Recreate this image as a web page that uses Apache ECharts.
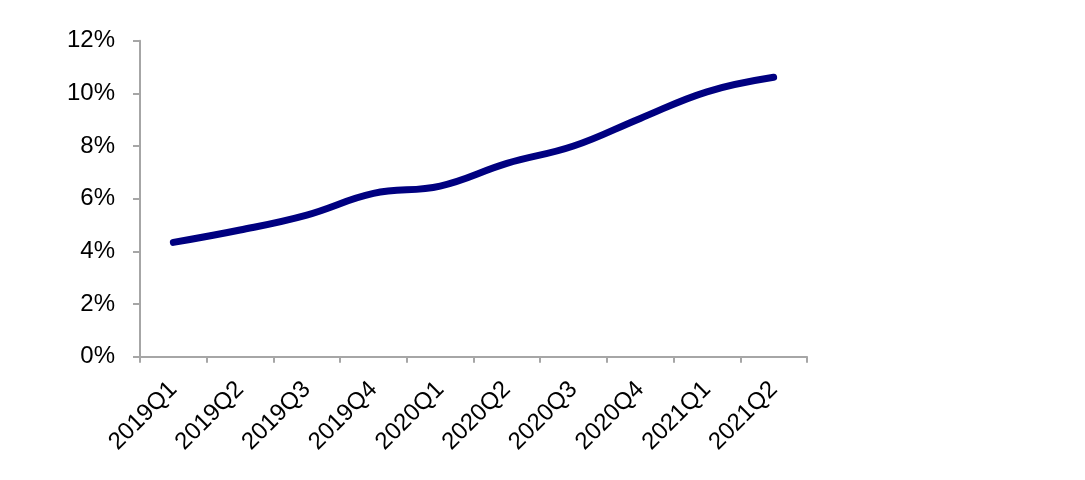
<!DOCTYPE html>
<html>
<head>
<meta charset="utf-8">
<script src="https://cdn.jsdelivr.net/npm/echarts@6/dist/echarts.min.js"></script>
<style>
html,body{margin:0;padding:0;background:#fff;}
#chart{width:1085px;height:480px;}
</style>
</head>
<body>
<div id="chart"></div>
<script>
const categories = ['2019Q1','2019Q2','2019Q3','2019Q4','2020Q1','2020Q2','2020Q3','2020Q4','2021Q1','2021Q2'];
const values = [4.34, 4.81, 5.38, 6.2, 6.48, 7.34, 8.0, 9.05, 10.06, 10.61];
const yTicks = {min: 0, max: 12, interval: 2};

const chart = echarts.init(document.getElementById('chart'));
chart.setOption({
  animation: false,
  backgroundColor: '#ffffff',
  grid: {left: 140, right: 278, top: 40.7, bottom: 123.3, containLabel: false},
  xAxis: {
    type: 'category',
    data: categories,
    boundaryGap: true,
    axisLine: {show: true, lineStyle: {color: '#a6a6a6', width: 2}},
    axisTick: {show: true, length: 6, lineStyle: {color: '#a6a6a6', width: 2}},
    axisLabel: {
      rotate: 45, margin: 29, color: '#000',
      fontFamily: 'Liberation Sans, Arial, sans-serif', fontSize: 24
    },
    splitLine: {show: false}
  },
  yAxis: {
    type: 'value',
    min: yTicks.min, max: yTicks.max, interval: yTicks.interval,
    axisLine: {show: true, lineStyle: {color: '#a6a6a6', width: 2}},
    axisTick: {show: true, inside: false, length: 7, lineStyle: {color: '#a6a6a6', width: 2}},
    axisLabel: {
      formatter: '{value}%', margin: 25, color: '#000',
      fontFamily: 'Liberation Sans, Arial, sans-serif', fontSize: 24
    },
    splitLine: {show: false}
  },
  series: [{
    type: 'line',
    data: values,
    smooth: 0.4,
    showSymbol: false,
    lineStyle: {color: '#000080', width: 7, cap: 'round'},
    itemStyle: {color: '#000080'}
  }]
});
</script>
</body>
</html>
